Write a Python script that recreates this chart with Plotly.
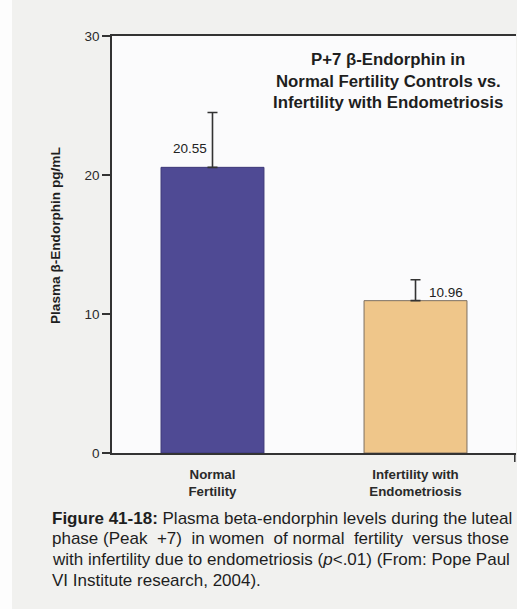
import plotly.graph_objects as go

categories = ["Normal<br>Fertility", "Infertility with<br>Endometriosis"]
means = [20.55, 10.96]
errors_up = [3.95, 1.5]
value_labels = ["20.55", "10.96"]
bar_colors = ["#4f4a94", "#efc68a"]
bar_lines = ["#3d3878", "#7d6f60"]
y_ticks = [0, 10, 20, 30]

title_lines = ["P+7 β-Endorphin in", "Normal Fertility Controls vs.", "Infertility with Endometriosis"]
caption_lines = [
    "<b>Figure 41-18:</b> Plasma beta-endorphin levels during the luteal",
    "phase (Peak  +7)  in women  of normal  fertility  versus those",
    "with infertility due to endometriosis (<i>p</i>&lt;.01) (From: Pope Paul",
    "VI Institute research, 2004).",
]

W, H = 517, 609
L, R, T, B = 112, 1, 36, 156
pw = W - L - R
ph = H - T - B

fig = go.Figure()
fig.add_trace(go.Bar(
    x=[0, 1], y=means, width=0.507,
    marker=dict(color=bar_colors, line=dict(color=bar_lines, width=1)),
    error_y=dict(type="data", symmetric=False, array=errors_up, arrayminus=[0, 0],
                 color="#333333", thickness=1.6, width=5),
    hoverinfo="skip",
))

font = "Liberation Sans, Arial, sans-serif"

ann = []
ann.append(dict(x=0, y=means[0], xref="x", yref="y", text=value_labels[0], showarrow=False,
                xshift=-22, yshift=19, font=dict(size=13.5, color="#222", family=font)))
ann.append(dict(x=1, y=means[1], xref="x", yref="y", text=value_labels[1], showarrow=False,
                xshift=30, yshift=8, font=dict(size=13.5, color="#222", family=font)))

def px_x(p):
    return (p - L) / pw

def px_y(p):
    return 1 - (p - T) / ph

for i, t in enumerate(title_lines):
    ann.append(dict(x=px_x(388), y=px_y(60 + i * 21), xref="paper", yref="paper",
                    text="<b>" + t + "</b>", showarrow=False, xanchor="center", yanchor="middle",
                    font=dict(size=16.8, color="#1e1e1e", family=font)))

ann.append(dict(x=px_x(56), y=px_y(235), xref="paper", yref="paper",
                text="<b>Plasma β-Endorphin pg/mL</b>", textangle=-90, showarrow=False,
                xanchor="center", yanchor="middle",
                font=dict(size=13.6, color="#1e1e1e", family=font)))

for i, t in enumerate(caption_lines):
    ann.append(dict(x=px_x(50), y=px_y(518 + i * 20.8), xref="paper", yref="paper",
                    text=t, showarrow=False, xanchor="left", yanchor="middle",
                    font=dict(size=17, color="#1e1e1e", family=font)))

fig.update_layout(
    width=W, height=H,
    margin=dict(l=L, r=R, t=T, b=B, pad=0),
    paper_bgcolor="#f1f1ef",
    plot_bgcolor="#fbfbfc",
    showlegend=False,
    annotations=ann,
    shapes=[
        dict(type="rect", xref="paper", yref="paper", x0=px_x(0), x1=px_x(12), y0=px_y(H), y1=px_y(0),
             fillcolor="#fdfdfd", line=dict(width=0), layer="below"),
        dict(type="line", xref="paper", yref="paper", x0=0.997, x1=0.997, y0=0, y1=px_y(462),
             line=dict(color="#333", width=1.5)),
    ],
    xaxis=dict(
        range=[-0.495, 1.495], tickvals=[0, 1],
        ticktext=["<b>" + c + "</b>" for c in categories],
        tickfont=dict(size=13.3, color="#2a2a2a", family=font),
        ticklabelstandoff=8,
        showline=True, linecolor="#333", linewidth=2, mirror=True,
        ticks="", showgrid=False, zeroline=False, fixedrange=True,
    ),
    yaxis=dict(
        range=[0, 30], tickvals=y_ticks, ticks="outside", ticklen=8, tickwidth=1.5,
        tickcolor="#333", showline=True, linecolor="#333", linewidth=1.5,
        tickfont=dict(size=13.5, color="#2a2a2a", family=font),
        showgrid=False, zeroline=False, fixedrange=True,
    ),
)

fig.write_html("out.html", config={"displayModeBar": False},
               post_script="document.body.style.margin='0';document.body.style.overflow='hidden';")
